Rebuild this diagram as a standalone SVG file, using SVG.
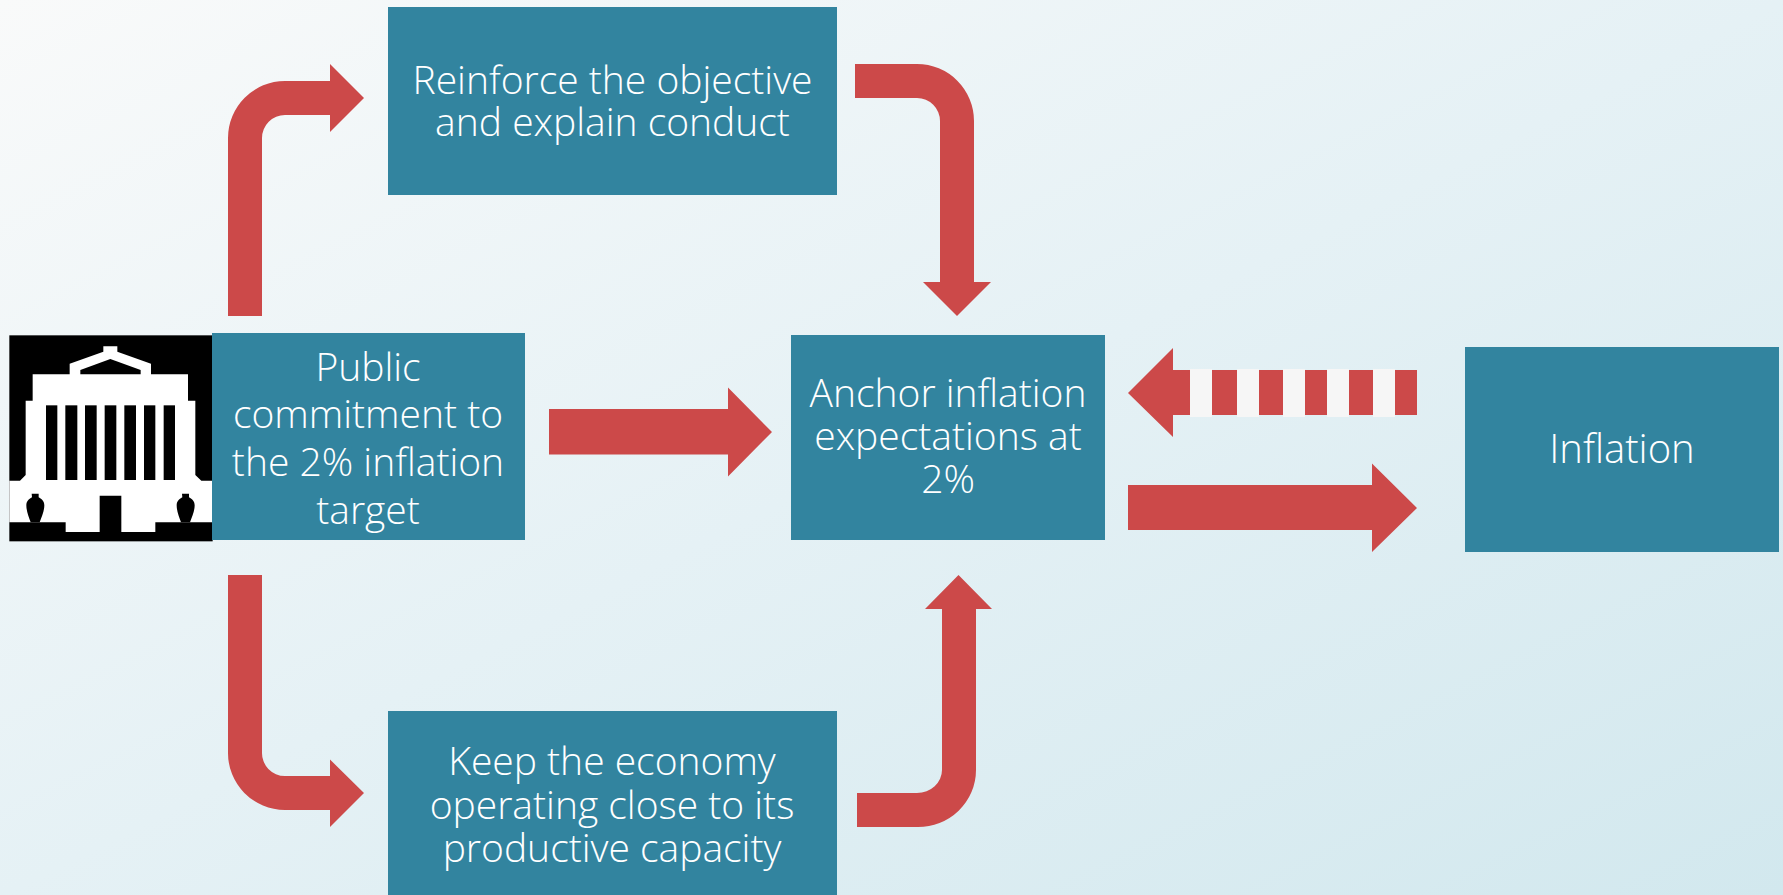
<svg xmlns="http://www.w3.org/2000/svg" width="1783" height="895" viewBox="0 0 1783 895">
<style>
.box{fill:#32849f}
.arrow{fill:#cc4949}
.lbl{font-family:"Open Sans","Noto Sans","DejaVu Sans",sans-serif;font-weight:300;font-size:39px;fill:#fff;text-anchor:middle}
.blk{fill:#000}
.wht{fill:#fff}
.gap{fill:#f6f6f6}
</style>
<defs>
<linearGradient id="bg" x1="0" y1="0" x2="1" y2="1">
<stop offset="0" stop-color="#f9fafa"/>
<stop offset="0.5" stop-color="#e5f1f5"/>
<stop offset="1" stop-color="#d2e8ee"/>
</linearGradient>
</defs>
<rect width="1783" height="895" fill="url(#bg)"/>
<g id="connectors">
<path class="arrow" d="M228 316V138A57 57 0 0 1 285 81H330V64L364 98L330 132V115H285A23 23 0 0 0 262 138V316Z"/>
<path class="arrow" d="M855 64H917A57 57 0 0 1 974 121V282H991L957 316L923 282H940V121A23 23 0 0 0 917 98H855Z"/>
<path class="arrow" d="M228 575V752A57 57 0 0 0 285 810H330V827L364 793L330 759.500V776H285A23 23 0 0 1 262 752V575Z"/>
<path class="arrow" d="M857 793H917A25 23 0 0 0 942 770V609H925L958.500 575L992 609H976V770A58 57 0 0 1 917 827H857Z"/>
<path class="arrow" d="M549 409H728V387.500L772 432L728 476.500V454.500H549Z"/>
<path class="arrow" d="M1128 485H1372V463.500L1417 508L1372 552V530H1128Z"/>
<g id="dashed-arrow">
<path class="arrow" d="M1128 393L1173 348V370H1417V415H1173V437Z"/>
<rect class="gap" x="1190" y="369" width="22" height="48"/>
<rect class="gap" x="1237" y="369" width="22" height="48"/>
<rect class="gap" x="1283" y="369" width="22" height="48"/>
<rect class="gap" x="1327" y="369" width="22" height="48"/>
<rect class="gap" x="1373" y="369" width="22" height="48"/>
</g>
</g>
<g id="bank-icon" transform="translate(0 320) scale(.33333)">
<rect class="blk" x="28" y="46" width="610" height="618"/>
<path class="wht" d="M28 482H60L77 465V242H98V163H209V131L310 95V79H352V95L453 131V163H564V242H586V465L604 482H636V607H466V636H364V527H299V636H197V607H28Z"/>
<path class="blk" d="M241 163V150L331 117L422 150V163Z"/>
<rect class="blk" x="138" y="256" width="34" height="224"/>
<rect class="blk" x="196" y="256" width="36" height="224"/>
<rect class="blk" x="255" y="256" width="35" height="224"/>
<rect class="blk" x="314" y="256" width="35" height="224"/>
<rect class="blk" x="373" y="256" width="35" height="224"/>
<rect class="blk" x="432" y="256" width="34" height="224"/>
<rect class="blk" x="491" y="256" width="34" height="224"/>
<path id="urn-left" class="blk" d="M95 521H116V532C126 537 133 544 133 556C133 575 124 592 119 607H92C87 592 79 575 79 556C79 544 86 537 96 532Z"/>
<path id="urn-right" class="blk" d="M546 521H567V532C577 537 584 544 584 556C584 575 575 592 570 607H543C538 592 530 575 530 556C530 544 537 537 547 532Z"/>
</g>
<g id="node-public">
<rect class="box" x="212" y="333" width="313" height="207"/>
<text class="lbl"><tspan x="368" y="380.500">Public</tspan><tspan x="368" y="428">commitment to</tspan><tspan x="368" y="476">the 2% inflation</tspan><tspan x="368" y="523.500">target</tspan></text>
</g>
<g id="node-reinforce">
<rect class="box" x="388" y="7" width="449" height="188"/>
<text class="lbl"><tspan x="612.500" y="93.500">Reinforce the objective</tspan><tspan x="612.500" y="135.500">and explain conduct</tspan></text>
</g>
<g id="node-keep">
<rect class="box" x="388" y="711" width="449" height="184"/>
<text class="lbl"><tspan x="612" y="775">Keep the economy</tspan><tspan x="612" y="819">operating close to its</tspan><tspan x="612" y="862">productive capacity</tspan></text>
</g>
<g id="node-anchor">
<rect class="box" x="791" y="335" width="314" height="205"/>
<text class="lbl"><tspan x="948" y="407">Anchor inflation</tspan><tspan x="948" y="450">expectations at</tspan><tspan x="948" y="493">2%</tspan></text>
</g>
<g id="node-inflation">
<rect class="box" x="1465" y="347" width="314" height="205"/>
<text class="lbl" style="font-size:40px"><tspan x="1622" y="463">Inflation</tspan></text>
</g>
</svg>
